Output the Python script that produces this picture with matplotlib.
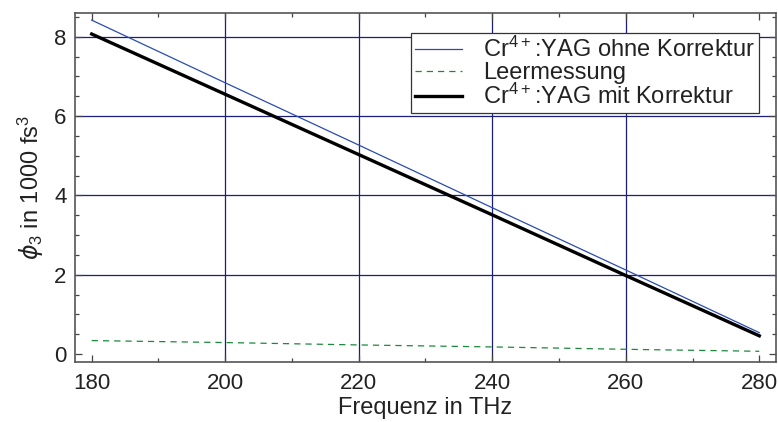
import numpy as np
import matplotlib
matplotlib.use("Agg")
import matplotlib.pyplot as plt
from matplotlib.ticker import MultipleLocator

# Daten (Frequenz in THz, phi_3 in 1000 fs^3)
freq = [180, 200, 220, 240, 260, 280]
ohne_korrektur = [8.42, 6.84, 5.27, 3.69, 2.12, 0.54]
leermessung = [0.34, 0.29, 0.23, 0.18, 0.12, 0.07]
mit_korrektur = [8.07, 6.55, 5.03, 3.51, 1.98, 0.46]

labels = ["Cr$^{4+}$:YAG ohne Korrektur", "Leermessung", "Cr$^{4+}$:YAG mit Korrektur"]
x_grid = [200, 220, 240, 260]
y_grid = [2, 4, 6, 8]

plt.rcParams["font.family"] = ["Liberation Sans", "DejaVu Sans"]
plt.rcParams["mathtext.fontset"] = "custom"
plt.rcParams["mathtext.rm"] = "Liberation Sans"
plt.rcParams["mathtext.it"] = "DejaVu Sans:italic"
plt.rcParams["mathtext.default"] = "regular"

fig = plt.figure(figsize=(7.78, 4.22), dpi=100)
ax = fig.add_axes([0.0964, 0.1422, 0.901, 0.827])

# Gitter nur an den inneren Haupttics
for xv in x_grid:
    ax.axvline(xv, color="#1c1f78", lw=0.9, zorder=0)
for yv in y_grid:
    ax.axhline(yv, color="#1c1f78", lw=0.9, zorder=0)

ax.plot(freq, ohne_korrektur, color="#2a4cb0", lw=0.9, label=labels[0])
ax.plot(freq, leermessung, color="#1a8a3a", lw=0.9, ls=(0, (5, 4)), label=labels[1])
ax.plot(freq, mit_korrektur, color="black", lw=2.4, label=labels[2])

ax.set_xlim(177.5, 282.5)
ax.set_ylim(-0.2, 8.6)
ax.xaxis.set_major_locator(MultipleLocator(20))
ax.xaxis.set_minor_locator(MultipleLocator(10))
ax.yaxis.set_major_locator(MultipleLocator(2))
ax.yaxis.set_minor_locator(MultipleLocator(0.5))

ax.tick_params(which="both", direction="in", top=True, right=True,
               color="#444444", labelsize=16, width=0.9, labelcolor="#222222")
ax.tick_params(which="major", length=5)
ax.tick_params(axis="x", which="major", pad=8)
ax.tick_params(axis="y", which="major", pad=6)
ax.tick_params(which="minor", length=3)
for s in ax.spines.values():
    s.set_color("#555555")
    s.set_linewidth(1.2)

ax.set_xlabel("Frequenz in THz", fontsize=17, labelpad=2, color="#222222")
ax.set_ylabel(r"$\mathit{\phi}_3$ in 1000 fs$^3$", fontsize=17, labelpad=6,
              color="#222222")

leg = ax.legend(loc="upper right", bbox_to_anchor=(0.9755, 0.942), fontsize=17,
                handlelength=2.0, labelspacing=0.0, borderpad=0.15,
                handletextpad=0.9, fancybox=False, framealpha=1,
                edgecolor="#333333", borderaxespad=0)
leg.get_frame().set_linewidth(0.9)
for t in leg.get_texts():
    t.set_color("#222222")

fig.savefig("out.png", dpi=100)
